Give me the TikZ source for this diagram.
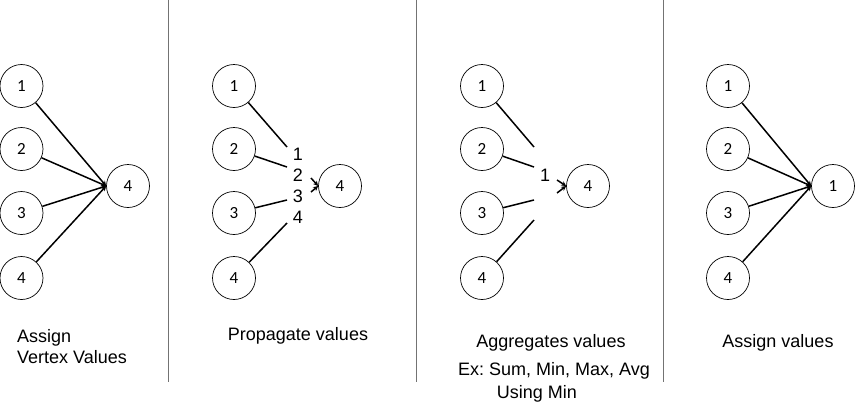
\documentclass[tikz,border=0pt]{standalone}
\usepackage{fontspec}
\setmainfont{Liberation Sans}
\newfontfamily\numfont{Carlito}
\usetikzlibrary{arrows.meta}
\frenchspacing

\begin{document}
\begin{tikzpicture}[x=1pt,y=-1pt,
  vertex/.style={draw,circle,minimum size=43pt,inner sep=0pt,line width=0.7pt,font=\numfont\fontsize{17}{20}\selectfont},
  edge/.style={line width=1.5pt,-{Stealth[length=5pt,width=5pt]}},
  stub/.style={line width=1.5pt},
  divider/.style={draw=black!55,line width=0.8pt},
  caption/.style={inner sep=0pt,font=\fontsize{18}{21}\selectfont}]
\useasboundingbox (0,0) rectangle (857,413);
\draw[divider] (168,0) -- (168,382);
\draw[divider] (416,0) -- (416,382);
\draw[divider] (663,0) -- (663,382);
\node[vertex] (a1) at (21.5,86) {1};
\node[vertex] (a2) at (21.5,149) {2};
\node[vertex] (a3) at (21.5,213) {3};
\node[vertex] (a4) at (21.5,278) {4};
\node[vertex] (at) at (128,186) {4};
\draw[edge] (a1) -- (at.west);
\draw[edge] (a2) -- (at.west);
\draw[edge] (a3) -- (at.west);
\draw[edge] (a4) -- (at.west);
\node[caption,align=left,anchor=base west] (assign) at (17,363) {Assign\\Vertex Values};
\node[vertex] (b1) at (234,86) {1};
\node[vertex] (b2) at (234,149) {2};
\node[vertex] (b3) at (234,213) {3};
\node[vertex] (b4) at (234,278) {4};
\node[vertex] (bt) at (340,186) {4};
\coordinate (be1) at (287,147);
\coordinate (be2) at (287,167);
\coordinate (be3) at (287,200);
\coordinate (be4) at (287,223);
\draw[stub] (b1) -- (be1);
\draw[stub] (b2) -- (be2);
\draw[stub] (b3) -- (be3);
\draw[stub] (b4) -- (be4);
\node[caption,align=center] (bvals) at (298,185.5) {1\\2\\3\\4};
\coordinate (bs1) at (311,178);
\coordinate (bs2) at (311,192);
\draw[edge] (bs1) -- (bt.west);
\draw[edge] (bs2) -- (bt.west);
\node[caption,anchor=base] (propagate) at (298,340) {Propagate values};
\node[vertex] (c1) at (482,86) {1};
\node[vertex] (c2) at (482,149) {2};
\node[vertex] (c3) at (482,213) {3};
\node[vertex] (c4) at (482,278) {4};
\node[vertex] (ct) at (588,186) {4};
\coordinate (ce1) at (534,147);
\coordinate (ce2) at (534,167);
\coordinate (ce3) at (534,200);
\coordinate (ce4) at (534,220);
\draw[stub] (c1) -- (ce1);
\draw[stub] (c2) -- (ce2);
\draw[stub] (c3) -- (ce3);
\draw[stub] (c4) -- (ce4);
\node[caption] (cval) at (545,175) {1};
\coordinate (cs1) at (557,180);
\coordinate (cs2) at (557,193);
\draw[edge] (cs1) -- (ct.west);
\draw[edge] (cs2) -- (ct.west);
\node[caption,anchor=base] (aggregate) at (551,347) {Aggregates values};
\node[caption,anchor=base] (examples) at (554,375) {Ex: Sum, Min, Max, Avg};
\node[caption,anchor=base] (usingmin) at (537,398) {Using Min};
\node[vertex] (d1) at (728,86) {1};
\node[vertex] (d2) at (728,149) {2};
\node[vertex] (d3) at (728,213) {3};
\node[vertex] (d4) at (728,278) {4};
\node[vertex] (dt) at (833,186) {1};
\draw[edge] (d1) -- (dt.west);
\draw[edge] (d2) -- (dt.west);
\draw[edge] (d3) -- (dt.west);
\draw[edge] (d4) -- (dt.west);
\node[caption,anchor=base] (assignvals) at (778,347) {Assign values};
\end{tikzpicture}
\end{document}
